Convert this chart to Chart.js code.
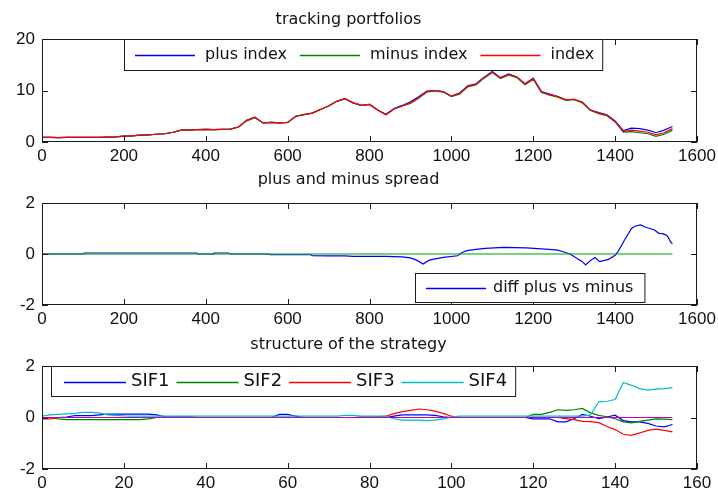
<!DOCTYPE html>
<html>
<head>
<meta charset="utf-8">
<script src="https://cdn.jsdelivr.net/npm/chart.js@4.4.1/dist/chart.umd.min.js"></script>
<style>
  html, body { margin: 0; padding: 0; background: #fff; }
  #wrap { position: relative; width: 718px; height: 492px; overflow: hidden; background: #fff; }
  .panel { position: absolute; left: 0; width: 718px; height: 164px; }
</style>
</head>
<body>
<div id="wrap">
  <div class="panel" style="top:0px"><canvas id="c1" width="718" height="164"></canvas></div>
  <div class="panel" style="top:164px"><canvas id="c2" width="718" height="164"></canvas></div>
  <div class="panel" style="top:328px"><canvas id="c3" width="718" height="164"></canvas></div>
</div>
<script>
// --- tracking portfolios ---
const xTop = [0, 20, 40, 60, 80, 100, 120, 140, 160, 180, 200, 220, 240, 260, 280, 300, 320, 340, 360, 380,
  400, 420, 440, 460, 480, 500, 520, 540, 560, 580, 600, 620, 640, 660, 680, 700, 720, 740, 760, 780,
  800, 820, 840, 860, 880, 900, 920, 940, 960, 980, 1000, 1020, 1040, 1060, 1080, 1100, 1120, 1140, 1160, 1180,
  1200, 1220, 1240, 1260, 1280, 1300, 1320, 1340, 1360, 1380, 1400, 1420, 1440, 1460, 1480, 1500, 1520, 1540];
const indexVals = [0.9, 0.9, 0.85, 0.9, 0.9, 0.9, 0.9, 0.9, 0.95, 1.0, 1.15, 1.2, 1.35, 1.4, 1.5, 1.6, 1.9, 2.3, 2.35, 2.4,
  2.45, 2.4, 2.45, 2.5, 2.9, 4.2, 4.8, 3.7, 3.8, 3.7, 3.8, 5.0, 5.3, 5.6, 6.3, 7.0, 7.9, 8.4, 7.6, 7.1,
  7.3, 6.2, 5.3, 6.4, 7.0, 7.6, 8.6, 9.8, 10.0, 9.8, 8.9, 9.4, 10.8, 11.2, 12.5, 13.6, 12.4, 13.1, 12.6, 11.2,
  12.3, 9.7, 9.2, 8.8, 8.2, 8.3, 7.7, 6.2, 5.6, 5.2, 4.0, 2.0, 2.3, 2.1, 1.9, 1.4, 1.8, 2.6];
const plusIndex = [0.9, 0.9, 0.85, 0.9, 0.9, 0.9, 0.9, 0.9, 0.95, 1.0, 1.15, 1.2, 1.35, 1.4, 1.5, 1.6, 1.9, 2.3, 2.35, 2.4,
  2.45, 2.4, 2.45, 2.5, 2.9, 4.2, 4.8, 3.7, 3.8, 3.7, 3.8, 5.0, 5.3, 5.6, 6.3, 7.0, 7.9, 8.4, 7.6, 7.1,
  7.3, 6.2, 5.4, 6.5, 7.1, 7.8, 8.8, 9.9, 10.0, 9.8, 8.9, 9.5, 10.9, 11.3, 12.6, 13.7, 12.5, 13.2, 12.6, 11.3,
  12.4, 9.8, 9.3, 8.8, 8.2, 8.3, 7.7, 6.2, 5.7, 5.3, 4.1, 2.2, 2.7, 2.6, 2.3, 1.8, 2.3, 3.0];
const minusIndex = [0.9, 0.9, 0.85, 0.9, 0.9, 0.9, 0.9, 0.9, 0.95, 1.0, 1.15, 1.2, 1.35, 1.4, 1.5, 1.6, 1.9, 2.3, 2.35, 2.4,
  2.45, 2.4, 2.45, 2.5, 2.9, 4.1, 4.7, 3.7, 3.8, 3.7, 3.8, 5.0, 5.3, 5.6, 6.3, 7.0, 7.9, 8.4, 7.6, 7.1,
  7.3, 6.2, 5.3, 6.4, 7.0, 7.5, 8.5, 9.7, 9.9, 9.7, 8.8, 9.3, 10.7, 11.1, 12.4, 13.5, 12.3, 13.0, 12.5, 11.1,
  12.2, 9.6, 9.1, 8.7, 8.1, 8.2, 7.6, 6.1, 5.5, 5.1, 3.9, 1.9, 2.0, 1.8, 1.6, 1.1, 1.5, 2.3];

// --- plus and minus spread ---
const xSpread = [0, 100, 104, 378, 380, 418, 420, 456, 460, 555, 557, 657, 660, 700, 740, 760, 800, 840, 880, 900,
  915, 931, 945, 954, 981, 1015, 1025, 1038, 1060, 1083, 1127, 1183, 1220, 1239, 1260, 1273, 1290, 1306, 1320, 1328,
  1340, 1351, 1362, 1384, 1400, 1407, 1423, 1440, 1450, 1462, 1475, 1485, 1495, 1507, 1515, 1524, 1530, 1535, 1540];
const diffPlusMinus = [0, 0, 0.04, 0.04, 0, 0, 0.04, 0.04, 0, 0, -0.03, -0.03, -0.06, -0.07, -0.07, -0.09, -0.09, -0.09, -0.11, -0.15,
  -0.24, -0.39, -0.25, -0.21, -0.13, -0.07, 0.05, 0.13, 0.18, 0.22, 0.26, 0.24, 0.2, 0.18, 0.15, 0.09, 0.0, -0.17, -0.3, -0.43,
  -0.25, -0.14, -0.3, -0.21, -0.05, 0.09, 0.55, 1.0, 1.1, 1.14, 1.05, 1.0, 0.95, 0.81, 0.8, 0.75, 0.65, 0.48, 0.4];
const xSpreadZero = [0, 1540];
const spreadZero = [0, 0];

// --- structure of the strategy ---
const xSif = [0, 2, 4, 6, 8, 10, 12, 14, 16, 18, 20, 22, 24, 26, 28, 30, 32, 34, 36, 38,
  40, 42, 44, 46, 48, 50, 52, 54, 56, 58, 60, 62, 64, 66, 68, 70, 72, 74, 76, 78,
  80, 82, 84, 86, 88, 90, 92, 94, 96, 98, 100, 102, 104, 106, 108, 110, 112, 114, 116, 118,
  120, 122, 124, 126, 128, 130, 132, 134, 136, 138, 140, 142, 144, 146, 148, 150, 152, 154];
const sif1 = [0, 0, 0, 0.02, 0.07, 0.07, 0.07, 0.1, 0.13, 0.13, 0.13, 0.13, 0.13, 0.13, 0.1, 0.03, 0.03, 0.03, 0.03, 0,
  0, 0, 0, 0, 0, 0, 0, 0, 0, 0.12, 0.12, 0.05, 0, 0, 0, 0, 0, 0, 0, 0,
  0, 0, 0, 0.05, 0.1, 0.1, 0.1, 0.1, 0.08, 0.03, 0, 0, 0, 0, 0, 0, 0, 0, 0, 0,
  -0.05, -0.05, -0.05, -0.17, -0.17, -0.05, 0.12, 0.05, -0.04, 0.02, 0.09, -0.12, -0.17, -0.17, -0.23, -0.33, -0.36, -0.27];
const sif2 = [0, 0, -0.05, -0.08, -0.08, -0.08, -0.08, -0.08, -0.08, -0.08, -0.08, -0.08, -0.08, -0.05, 0, 0, 0, 0, 0, 0,
  0, 0, 0, 0, 0, 0, 0, 0, 0, 0, 0, 0, 0, 0, 0, 0, 0, 0, 0, 0,
  0, 0, 0, 0, 0, 0, 0, 0, 0, 0, 0, 0, 0, 0, 0, 0, 0, 0, 0, 0,
  0.12, 0.12, 0.2, 0.3, 0.28, 0.3, 0.35, 0.18, 0.08, 0.03, -0.05, -0.17, -0.21, -0.15, -0.1, -0.05, -0.06, -0.08];
const sif3 = [-0.05, -0.05, 0, 0, 0, 0, 0, 0, 0, 0, 0, 0, 0, 0, 0, 0, 0, 0, 0, 0,
  0, 0, 0, 0, 0, 0, 0, 0, 0, 0, 0, 0, 0, 0, 0, 0, 0, 0, 0, 0.03,
  0.03, 0.03, 0.05, 0.15, 0.23, 0.28, 0.33, 0.3, 0.25, 0.16, 0.05, 0, 0, 0, 0, 0, 0, 0, 0, 0,
  0, 0, 0, 0, -0.04, -0.08, -0.15, -0.16, -0.2, -0.35, -0.47, -0.65, -0.69, -0.6, -0.5, -0.45, -0.5, -0.56];
const sif4 = [0.05, 0.1, 0.12, 0.14, 0.16, 0.2, 0.2, 0.18, 0.1, 0.08, 0.06, 0.05, 0.05, 0.05, 0.05, 0.05, 0.05, 0.05, 0.05, 0.05,
  0.05, 0.05, 0.05, 0.05, 0.05, 0.05, 0.05, 0.05, 0.05, 0.05, 0.05, 0.05, 0.05, 0.05, 0.05, 0.05, 0.05, 0.08, 0.08, 0.05,
  0.05, 0.05, 0.05, -0.05, -0.1, -0.1, -0.1, -0.12, -0.1, -0.05, 0.02, 0.05, 0.05, 0.05, 0.05, 0.05, 0.05, 0.05, 0.05, 0.05,
  0.05, 0.05, 0.05, 0.05, 0.05, 0.05, 0.05, 0.1, 0.61, 0.63, 0.7, 1.36, 1.25, 1.12, 1.06, 1.1, 1.12, 1.16];
const xSifZero = [0, 154];
const sifZero = [0, 0];

const textFont = '"DejaVu Sans", sans-serif';
const tickFont = '"Liberation Sans", Arial, sans-serif';

function pts(xs, ys) {
  return xs.map((x, i) => ({ x: x, y: ys[i] }));
}

// box and inward ticks, like a matlab axes
const matlabFrame = {
  id: 'matlabFrame',
  afterDatasetsDraw(chart) {
    const { ctx, chartArea: a, scales } = chart;
    ctx.save();
    ctx.strokeStyle = '#1a1a1a';
    ctx.lineWidth = 1;
    ctx.strokeRect(a.left + 0.5, a.top + 0.5, a.width - 1, a.height - 1);
    ctx.beginPath();
    scales.x.ticks.forEach(t => {
      const px = Math.round(scales.x.getPixelForValue(t.value)) + 0.5;
      ctx.moveTo(px, a.bottom); ctx.lineTo(px, a.bottom - 6);
      ctx.moveTo(px, a.top); ctx.lineTo(px, a.top + 6);
    });
    scales.y.ticks.forEach(t => {
      const py = Math.round(scales.y.getPixelForValue(t.value)) + 0.5;
      ctx.moveTo(a.left, py); ctx.lineTo(a.left + 6, py);
      ctx.moveTo(a.right, py); ctx.lineTo(a.right - 6, py);
    });
    ctx.stroke();
    ctx.restore();
  }
};

// boxed legend placed inside the axes
const matlabLegend = {
  id: 'matlabLegend',
  afterDraw(chart, args, o) {
    if (!o || o.left === undefined) return;
    const ctx = chart.ctx;
    const items = chart.data.datasets.filter(d => !d.noLegend);
    ctx.save();
    ctx.font = o.fontSize + 'px ' + textFont;
    let w = o.padL + o.padR;
    items.forEach((d, i) => {
      w += o.lineLen + o.gap + ctx.measureText(d.label).width + (i ? o.itemGap : 0);
    });
    ctx.fillStyle = '#ffffff';
    ctx.fillRect(o.left, o.top, w, o.height);
    ctx.strokeStyle = '#1a1a1a';
    ctx.lineWidth = 1;
    ctx.strokeRect(o.left + 0.5, o.top + 0.5, w - 1, o.height - 1);
    let x = o.left + o.padL;
    const cy = o.top + o.height / 2;
    items.forEach(d => {
      ctx.beginPath();
      ctx.strokeStyle = d.borderColor;
      ctx.lineWidth = 1.3;
      ctx.moveTo(x, Math.round(cy) + 0.5);
      ctx.lineTo(x + o.lineLen, Math.round(cy) + 0.5);
      ctx.stroke();
      x += o.lineLen + o.gap;
      ctx.fillStyle = '#111111';
      ctx.textBaseline = 'middle';
      ctx.textAlign = 'left';
      ctx.fillText(d.label, x, cy);
      x += ctx.measureText(d.label).width + o.itemGap;
    });
    ctx.restore();
  }
};

function makePanel(id, p) {
  const titleSize = 16;
  const lh = titleSize * 1.2;
  const padTop = p.titleCenter - lh / 2;
  const padBottom = p.areaTop - padTop - lh;
  // later datasets are drawn on top, as in matlab
  p.datasets.forEach((d, i) => { d.order = p.datasets.length - i; });
  return new Chart(document.getElementById(id), {
    type: 'line',
    data: { datasets: p.datasets },
    options: {
      responsive: false,
      animation: false,
      layout: { padding: { left: 0, right: 21, top: 0, bottom: 0 } },
      elements: { point: { radius: 0 }, line: { borderWidth: 1.2, tension: 0 } },
      plugins: {
        legend: { display: false },
        tooltip: { enabled: false },
        title: {
          display: true,
          text: p.title,
          color: '#111',
          font: { family: textFont, size: titleSize, weight: 'normal', lineHeight: 1.2 },
          padding: { top: padTop, bottom: padBottom }
        },
        matlabLegend: p.legend
      },
      scales: {
        x: {
          type: 'linear',
          min: p.xMin, max: p.xMax,
          grid: { display: false, drawTicks: false },
          border: { display: false },
          ticks: { stepSize: p.xStep, color: '#111', padding: 4, maxRotation: 0, autoSkip: false,
                   font: { family: tickFont, size: 17 },
                   callback: v => String(v) },
          afterFit(s) { s.height = 164 - p.areaBottom; s.paddingLeft = 0; s.paddingRight = 0; }
        },
        y: {
          min: p.yMin, max: p.yMax,
          grid: { display: false, drawTicks: false },
          border: { display: false },
          ticks: { stepSize: p.yStep, color: '#111', padding: 7,
                   font: { family: tickFont, size: 17 },
                   callback: v => String(v) },
          afterFit(s) { s.width = 42; s.paddingTop = 0; s.paddingBottom = 0; }
        }
      }
    },
    plugins: [matlabFrame, matlabLegend]
  });
}

makePanel('c1', {
  title: 'tracking portfolios', titleCenter: 20, areaTop: 39, areaBottom: 142,
  xMin: 0, xMax: 1600, xStep: 200, yMin: 0, yMax: 20, yStep: 10,
  legend: { left: 124, top: 39, height: 32, fontSize: 16, padL: 11, padR: 9, lineLen: 60, gap: 10, itemGap: 13 },
  datasets: [
    { label: 'plus index', data: pts(xTop, plusIndex), borderColor: '#0000ff' },
    { label: 'minus index', data: pts(xTop, minusIndex), borderColor: '#008000' },
    { label: 'index', data: pts(xTop, indexVals), borderColor: '#ff0000' }
  ]
});

makePanel('c2', {
  title: 'plus and minus spread', titleCenter: 16, areaTop: 39, areaBottom: 141,
  xMin: 0, xMax: 1600, xStep: 200, yMin: -2, yMax: 2, yStep: 2,
  legend: { left: 415, top: 109, height: 30, fontSize: 16, padL: 11, padR: 12, lineLen: 60, gap: 7, itemGap: 10 },
  datasets: [
    { label: 'diff plus vs minus', data: pts(xSpread, diffPlusMinus), borderColor: '#0000ff' },
    { label: 'zero', data: pts(xSpreadZero, spreadZero), borderColor: '#00a000', noLegend: true }
  ]
});

makePanel('c3', {
  title: 'structure of the strategy', titleCenter: 17, areaTop: 38, areaBottom: 141,
  xMin: 0, xMax: 160, xStep: 20, yMin: -2, yMax: 2, yStep: 2,
  legend: { left: 51, top: 38, height: 31, fontSize: 18, padL: 13, padR: 9, lineLen: 62, gap: 5, itemGap: 7 },
  datasets: [
    { label: 'SIF1', data: pts(xSif, sif1), borderColor: '#0000ff' },
    { label: 'SIF2', data: pts(xSif, sif2), borderColor: '#008000' },
    { label: 'SIF3', data: pts(xSif, sif3), borderColor: '#ff0000' },
    { label: 'SIF4', data: pts(xSif, sif4), borderColor: '#00bfbf' },
    { label: 'zero', data: pts(xSifZero, sifZero), borderColor: '#bf00bf', noLegend: true }
  ]
});
</script>
</body>
</html>
